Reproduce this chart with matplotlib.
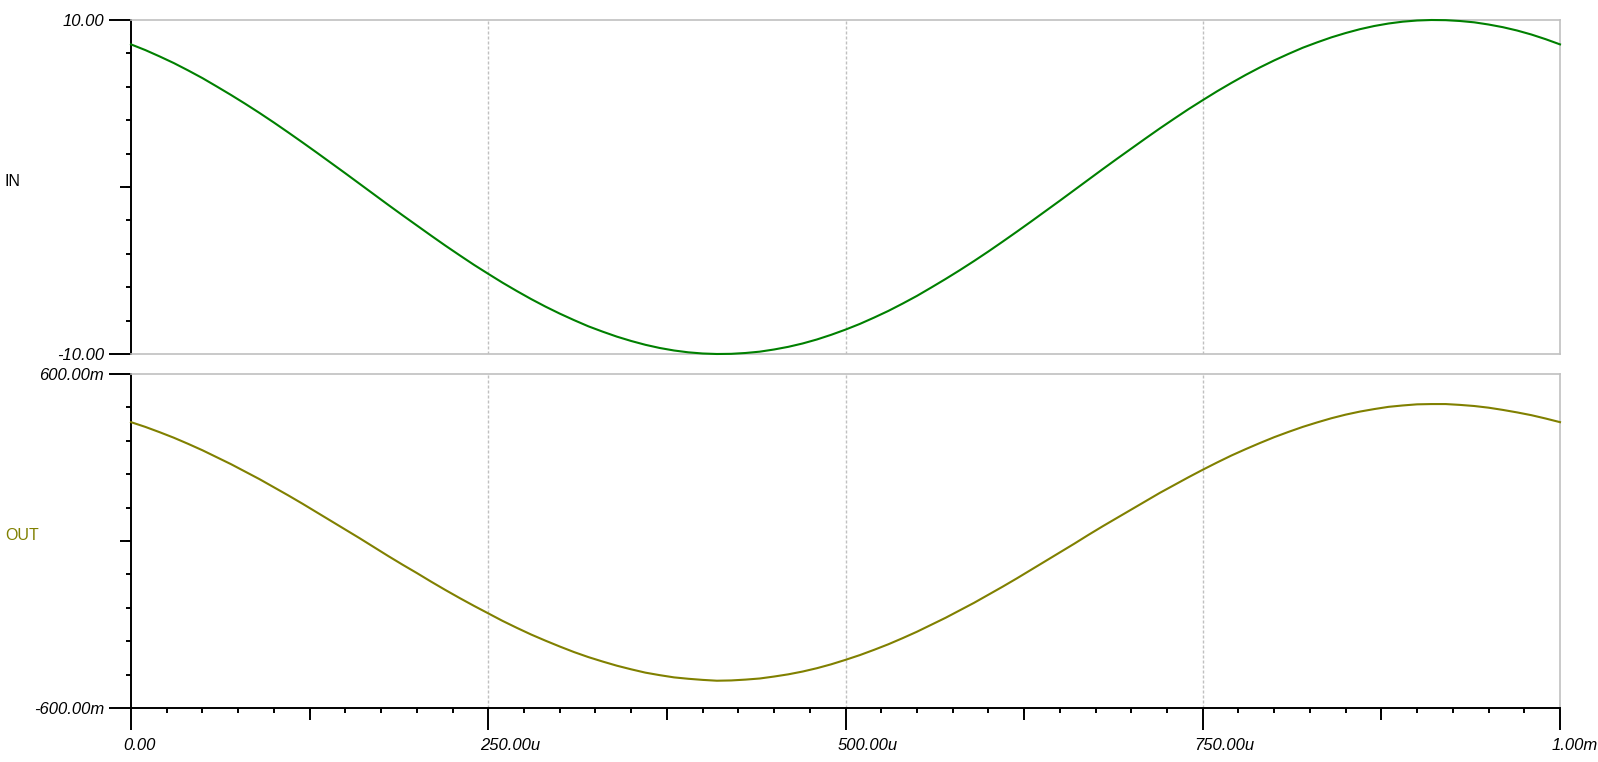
import matplotlib
matplotlib.use("Agg")
import matplotlib.pyplot as plt
from matplotlib.ticker import FixedLocator, MultipleLocator
from matplotlib.transforms import ScaledTranslation

plt.rcParams['font.family'] = ['Liberation Sans', 'DejaVu Sans']
plt.rcParams['lines.scale_dashes'] = False

# time in microseconds (0 .. 1000 us, every 10 us)
time_us = list(range(0, 1001, 10))
in_values = [8.54, 8.20, 7.82, 7.42, 6.98, 6.52, 6.02, 5.51, 4.98, 4.43,
             3.86, 3.27, 2.67, 2.06, 1.44, 0.82, 0.19, -0.44, -1.07, -1.69,
             -2.30, -2.91, -3.51, -4.09, -4.66, -5.20, -5.73, -6.23, -6.71, -7.16,
             -7.58, -7.97, -8.34, -8.66, -8.96, -9.22, -9.45, -9.64, -9.79, -9.90,
             -9.97, -10.00, -9.99, -9.94, -9.86, -9.73, -9.57, -9.37, -9.13, -8.85,
             -8.54, -8.20, -7.82, -7.42, -6.98, -6.52, -6.02, -5.51, -4.98, -4.43,
             -3.86, -3.27, -2.67, -2.06, -1.44, -0.82, -0.19, 0.44, 1.07, 1.69,
             2.30, 2.91, 3.51, 4.09, 4.66, 5.20, 5.73, 6.23, 6.71, 7.16,
             7.58, 7.97, 8.34, 8.66, 8.96, 9.22, 9.45, 9.64, 9.79, 9.90,
             9.97, 10.00, 9.99, 9.94, 9.86, 9.73, 9.57, 9.37, 9.13, 8.85,
             8.54]
out_values = [0.427, 0.410, 0.391, 0.371, 0.349, 0.326, 0.301, 0.276, 0.249, 0.222,
              0.193, 0.164, 0.134, 0.103, 0.072, 0.041, 0.010, -0.022, -0.054, -0.085,
              -0.115, -0.146, -0.176, -0.205, -0.233, -0.260, -0.287, -0.312, -0.336, -0.358,
              -0.379, -0.399, -0.417, -0.433, -0.448, -0.461, -0.473, -0.482, -0.490, -0.495,
              -0.499, -0.502, -0.501, -0.498, -0.494, -0.487, -0.479, -0.469, -0.457, -0.443,
              -0.427, -0.410, -0.391, -0.371, -0.349, -0.326, -0.301, -0.276, -0.249, -0.222,
              -0.193, -0.164, -0.134, -0.103, -0.072, -0.041, -0.010, 0.022, 0.053, 0.083,
              0.113, 0.143, 0.173, 0.201, 0.229, 0.256, 0.282, 0.307, 0.330, 0.352,
              0.373, 0.392, 0.410, 0.426, 0.441, 0.454, 0.465, 0.474, 0.482, 0.487,
              0.491, 0.492, 0.492, 0.489, 0.485, 0.479, 0.471, 0.462, 0.452, 0.440,
              0.427]

x_tick_values = [0, 250e-6, 500e-6, 750e-6, 1e-3]
x_tick_labels = ["0.00", "250.00u", "500.00u", "750.00u", "1.00m"]
x_mid_ticks = [125e-6, 375e-6, 625e-6, 875e-6]
grid_values = [250e-6, 500e-6, 750e-6]
in_ylim = (-10, 10)
in_tick_labels = ["-10.00", "10.00"]
out_ylim = (-0.6, 0.6)
out_tick_labels = ["-600.00m", "600.00m"]

t = [v * 1e-6 for v in time_us]

W, H = 1598, 762
fig = plt.figure(figsize=(W / 100, H / 100), dpi=100)

left, right = 131, 1560
ax1 = fig.add_axes([left / W, 1 - 354 / H, (right - left) / W, 334 / H])
ax2 = fig.add_axes([left / W, 1 - 708 / H, (right - left) / W, 334 / H])

GRAY = '#c0c0c0'
px = 72 / 100  # points per pixel
FS = 12

def style(ax, ylim, labels, yminor, ymid, bottom_axis):
    ax.set_xlim(0, 1e-3)
    ax.set_ylim(*ylim)
    for s in ['top', 'right']:
        ax.spines[s].set_color(GRAY)
        ax.spines[s].set_linewidth(1.2)
    ax.spines['left'].set_color('black')
    ax.spines['left'].set_linewidth(1.4)
    if bottom_axis:
        ax.spines['bottom'].set_color('black')
        ax.spines['bottom'].set_linewidth(1.4)
    else:
        ax.spines['bottom'].set_color(GRAY)
        ax.spines['bottom'].set_linewidth(1.2)
    ax.yaxis.set_major_locator(FixedLocator(list(ylim)))
    ax.set_yticklabels(labels)
    ax.yaxis.set_minor_locator(MultipleLocator(yminor))
    ax.tick_params(axis='y', which='major', length=22 * px, width=1.4, pad=5 * px,
                   labelsize=FS, direction='out')
    ax.tick_params(axis='y', which='minor', length=5 * px, width=1.4, direction='out')
    for lab in ax.get_yticklabels():
        lab.set_fontstyle('italic')
    sec = ax.secondary_yaxis('left')
    sec.spines['left'].set_visible(False)
    sec.set_yticks([ymid])
    sec.set_yticklabels([''])
    sec.tick_params(axis='y', length=11 * px, width=1.4)
    for g in grid_values:
        ax.axvline(g, color=GRAY, lw=1.0, linestyle=(0, (3 * px, 2 * px)), zorder=0)

style(ax1, in_ylim, in_tick_labels, 2, 0, False)
style(ax2, out_ylim, out_tick_labels, 0.12, 0, True)

ax1.tick_params(axis='x', which='both', bottom=False, labelbottom=False)

ax2.xaxis.set_major_locator(FixedLocator(x_tick_values))
ax2.set_xticklabels(x_tick_labels)
ax2.xaxis.set_minor_locator(MultipleLocator(25e-6))
ax2.tick_params(axis='x', which='major', length=22 * px, width=1.4, pad=8 * px,
                labelsize=FS)
ax2.tick_params(axis='x', which='minor', length=5 * px, width=1.4)
off = ScaledTranslation(-8 / 100, 0, fig.dpi_scale_trans)
for lab in ax2.get_xticklabels():
    lab.set_fontstyle('italic')
    lab.set_horizontalalignment('left')
    lab.set_transform(lab.get_transform() + off)
secx = ax2.secondary_xaxis('bottom')
secx.spines['bottom'].set_visible(False)
secx.set_xticks(x_mid_ticks)
secx.set_xticklabels([''] * len(x_mid_ticks))
secx.tick_params(axis='x', length=12 * px, width=1.4)

ax1.plot(t, in_values, color='#008000', lw=1.5, clip_on=False, zorder=3)
ax2.plot(t, out_values, color='#808000', lw=1.5, clip_on=False, zorder=3)

fig.text(5 / W, 1 - 182 / H, "IN", ha='left', va='center', fontsize=11.5, color='black')
fig.text(5 / W, 1 - 535 / H, "OUT", ha='left', va='center', fontsize=11.5, color='#808000')

fig.savefig("out.png", dpi=100, facecolor='white')
